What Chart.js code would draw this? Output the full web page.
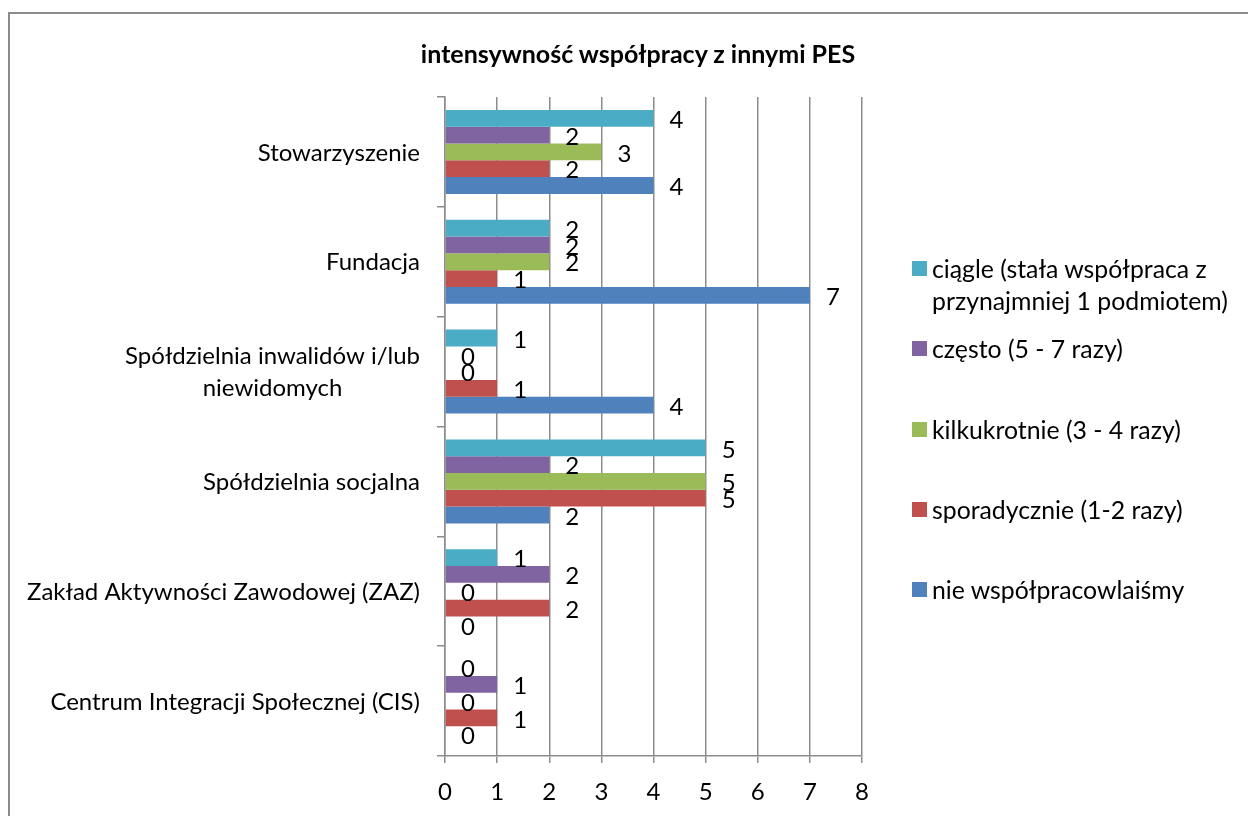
<!DOCTYPE html>
<html lang="pl">
<head>
<meta charset="utf-8">
<title>intensywność współpracy z innymi PES</title>
<script src="https://cdn.jsdelivr.net/npm/chart.js@4.4.1/dist/chart.umd.min.js"></script>
<style>
  html, body { margin: 0; padding: 0; background: #fff; }
  body { width: 1248px; height: 816px; overflow: hidden; position: relative; font-family: Lato, "Open Sans", sans-serif; color: #000; }
  .ramka { position: absolute; left: 8px; top: 12px; right: 0; bottom: 0; border-left: 2px solid #8c8c8c; border-top: 2px solid #8c8c8c; }
  #wykres { position: absolute; left: 0; top: 0; }
  .tytul { position: absolute; left: 638px; top: 38px; transform: translateX(-50%); white-space: nowrap; font-weight: bold; font-size: 25px; }
  .pozycja { position: absolute; left: 912px; display: flex; align-items: flex-start; font-size: 24.8px; line-height: 32px; white-space: nowrap; }
  .kwadrat { width: 15px; height: 15px; margin-top: 8px; margin-right: 5px; flex: none; }
</style>
</head>
<body>
<div class="ramka"></div>
<canvas id="wykres" width="1248" height="816"></canvas>
<div class="tytul">intensywność współpracy z innymi PES</div>
<div id="legenda"></div>
<script>
// kategorie od góry do dołu
const kategorie = [
  'Stowarzyszenie',
  'Fundacja',
  ['Spółdzielnia inwalidów i/lub', 'niewidomych'],
  'Spółdzielnia socjalna',
  'Zakład Aktywności Zawodowej (ZAZ)',
  'Centrum Integracji Społecznej (CIS)'
];

const ciagle = [4, 2, 1, 5, 1, 0];
const czesto = [2, 2, 0, 2, 2, 1];
const kilkukrotnie = [3, 2, 0, 5, 0, 0];
const sporadycznie = [2, 1, 1, 5, 2, 1];
const nieWspolpracowali = [4, 7, 4, 2, 0, 0];

const nazwySerii = [
  ['ciągle (stała współpraca z', 'przynajmniej 1 podmiotem)'],
  ['często (5 - 7 razy)'],
  ['kilkukrotnie (3 - 4 razy)'],
  ['sporadycznie (1-2 razy)'],
  ['nie współpracowlaiśmy']
];
const kolory = ['#4BACC6', '#8064A2', '#9BBB59', '#C0504D', '#4F81BD'];
const osX = { min: 0, max: 8, krok: 1 };

const FONT = 'Lato, "Open Sans", sans-serif';
const SZARY = '#8c8c8c';

// legenda w HTML
const legenda = document.getElementById('legenda');
nazwySerii.forEach((linie, i) => {
  const poz = document.createElement('div');
  poz.className = 'pozycja';
  poz.style.top = (269 + i * 80.3 - 16) + 'px';
  const kw = document.createElement('div');
  kw.className = 'kwadrat';
  kw.style.background = kolory[i];
  const tekst = document.createElement('div');
  tekst.innerHTML = linie.join('<br>');
  poz.appendChild(kw);
  poz.appendChild(tekst);
  legenda.appendChild(poz);
});

// etykiety wartości i etykiety kategorii
const etykiety = {
  id: 'etykiety',
  afterDatasetsDraw(chart) {
    const ctx = chart.ctx;
    ctx.save();
    ctx.fillStyle = '#000';
    ctx.font = '24px ' + FONT;
    ctx.textAlign = 'center';
    ctx.textBaseline = 'middle';
    chart.data.datasets.forEach((ds, i) => {
      chart.getDatasetMeta(i).data.forEach((el, j) => {
        ctx.fillText(String(ds.data[j]), el.x + 23, el.y + 2);
      });
    });

    const y = chart.scales.y;
    const prawo = y.right - 25;
    chart.data.labels.forEach((lab, j) => {
      const linie = Array.isArray(lab) ? lab : [lab];
      const sr = y.getPixelForValue(j);
      const szer = Math.max(...linie.map(l => ctx.measureText(l).width));
      const srodekX = prawo - szer / 2;
      linie.forEach((l, k) => {
        ctx.fillText(l, srodekX, sr + 1 + (k - (linie.length - 1) / 2) * 32);
      });
    });
    ctx.restore();
  }
};

const seria = [ciagle, czesto, kilkukrotnie, sporadycznie, nieWspolpracowali];

new Chart(document.getElementById('wykres').getContext('2d'), {
  type: 'bar',
  data: {
    labels: kategorie,
    datasets: seria.map((d, i) => ({
      label: nazwySerii[i].join(' '),
      data: d,
      backgroundColor: kolory[i],
      borderWidth: 0,
      categoryPercentage: 0.765,
      barPercentage: 1
    }))
  },
  options: {
    indexAxis: 'y',
    responsive: false,
    animation: false,
    layout: { padding: { left: 0, right: 386, top: 97, bottom: 0 } },
    plugins: {
      legend: { display: false },
      title: { display: false },
      tooltip: { enabled: false }
    },
    scales: {
      x: {
        min: osX.min,
        max: osX.max,
        ticks: {
          stepSize: osX.krok,
          color: '#000',
          font: { family: FONT, size: 24 },
          padding: 15
        },
        grid: { color: SZARY, lineWidth: 1.5, tickLength: 7 },
        border: { color: SZARY, width: 1.5 },
        afterFit: s => { s.height = 60; }
      },
      y: {
        ticks: { display: false },
        grid: { drawOnChartArea: false, offset: true, color: SZARY, lineWidth: 1.5, tickLength: 8 },
        border: { color: SZARY, width: 1.5 },
        afterFit: s => { s.width = 445; }
      }
    }
  },
  plugins: [etykiety]
});
</script>
</body>
</html>
